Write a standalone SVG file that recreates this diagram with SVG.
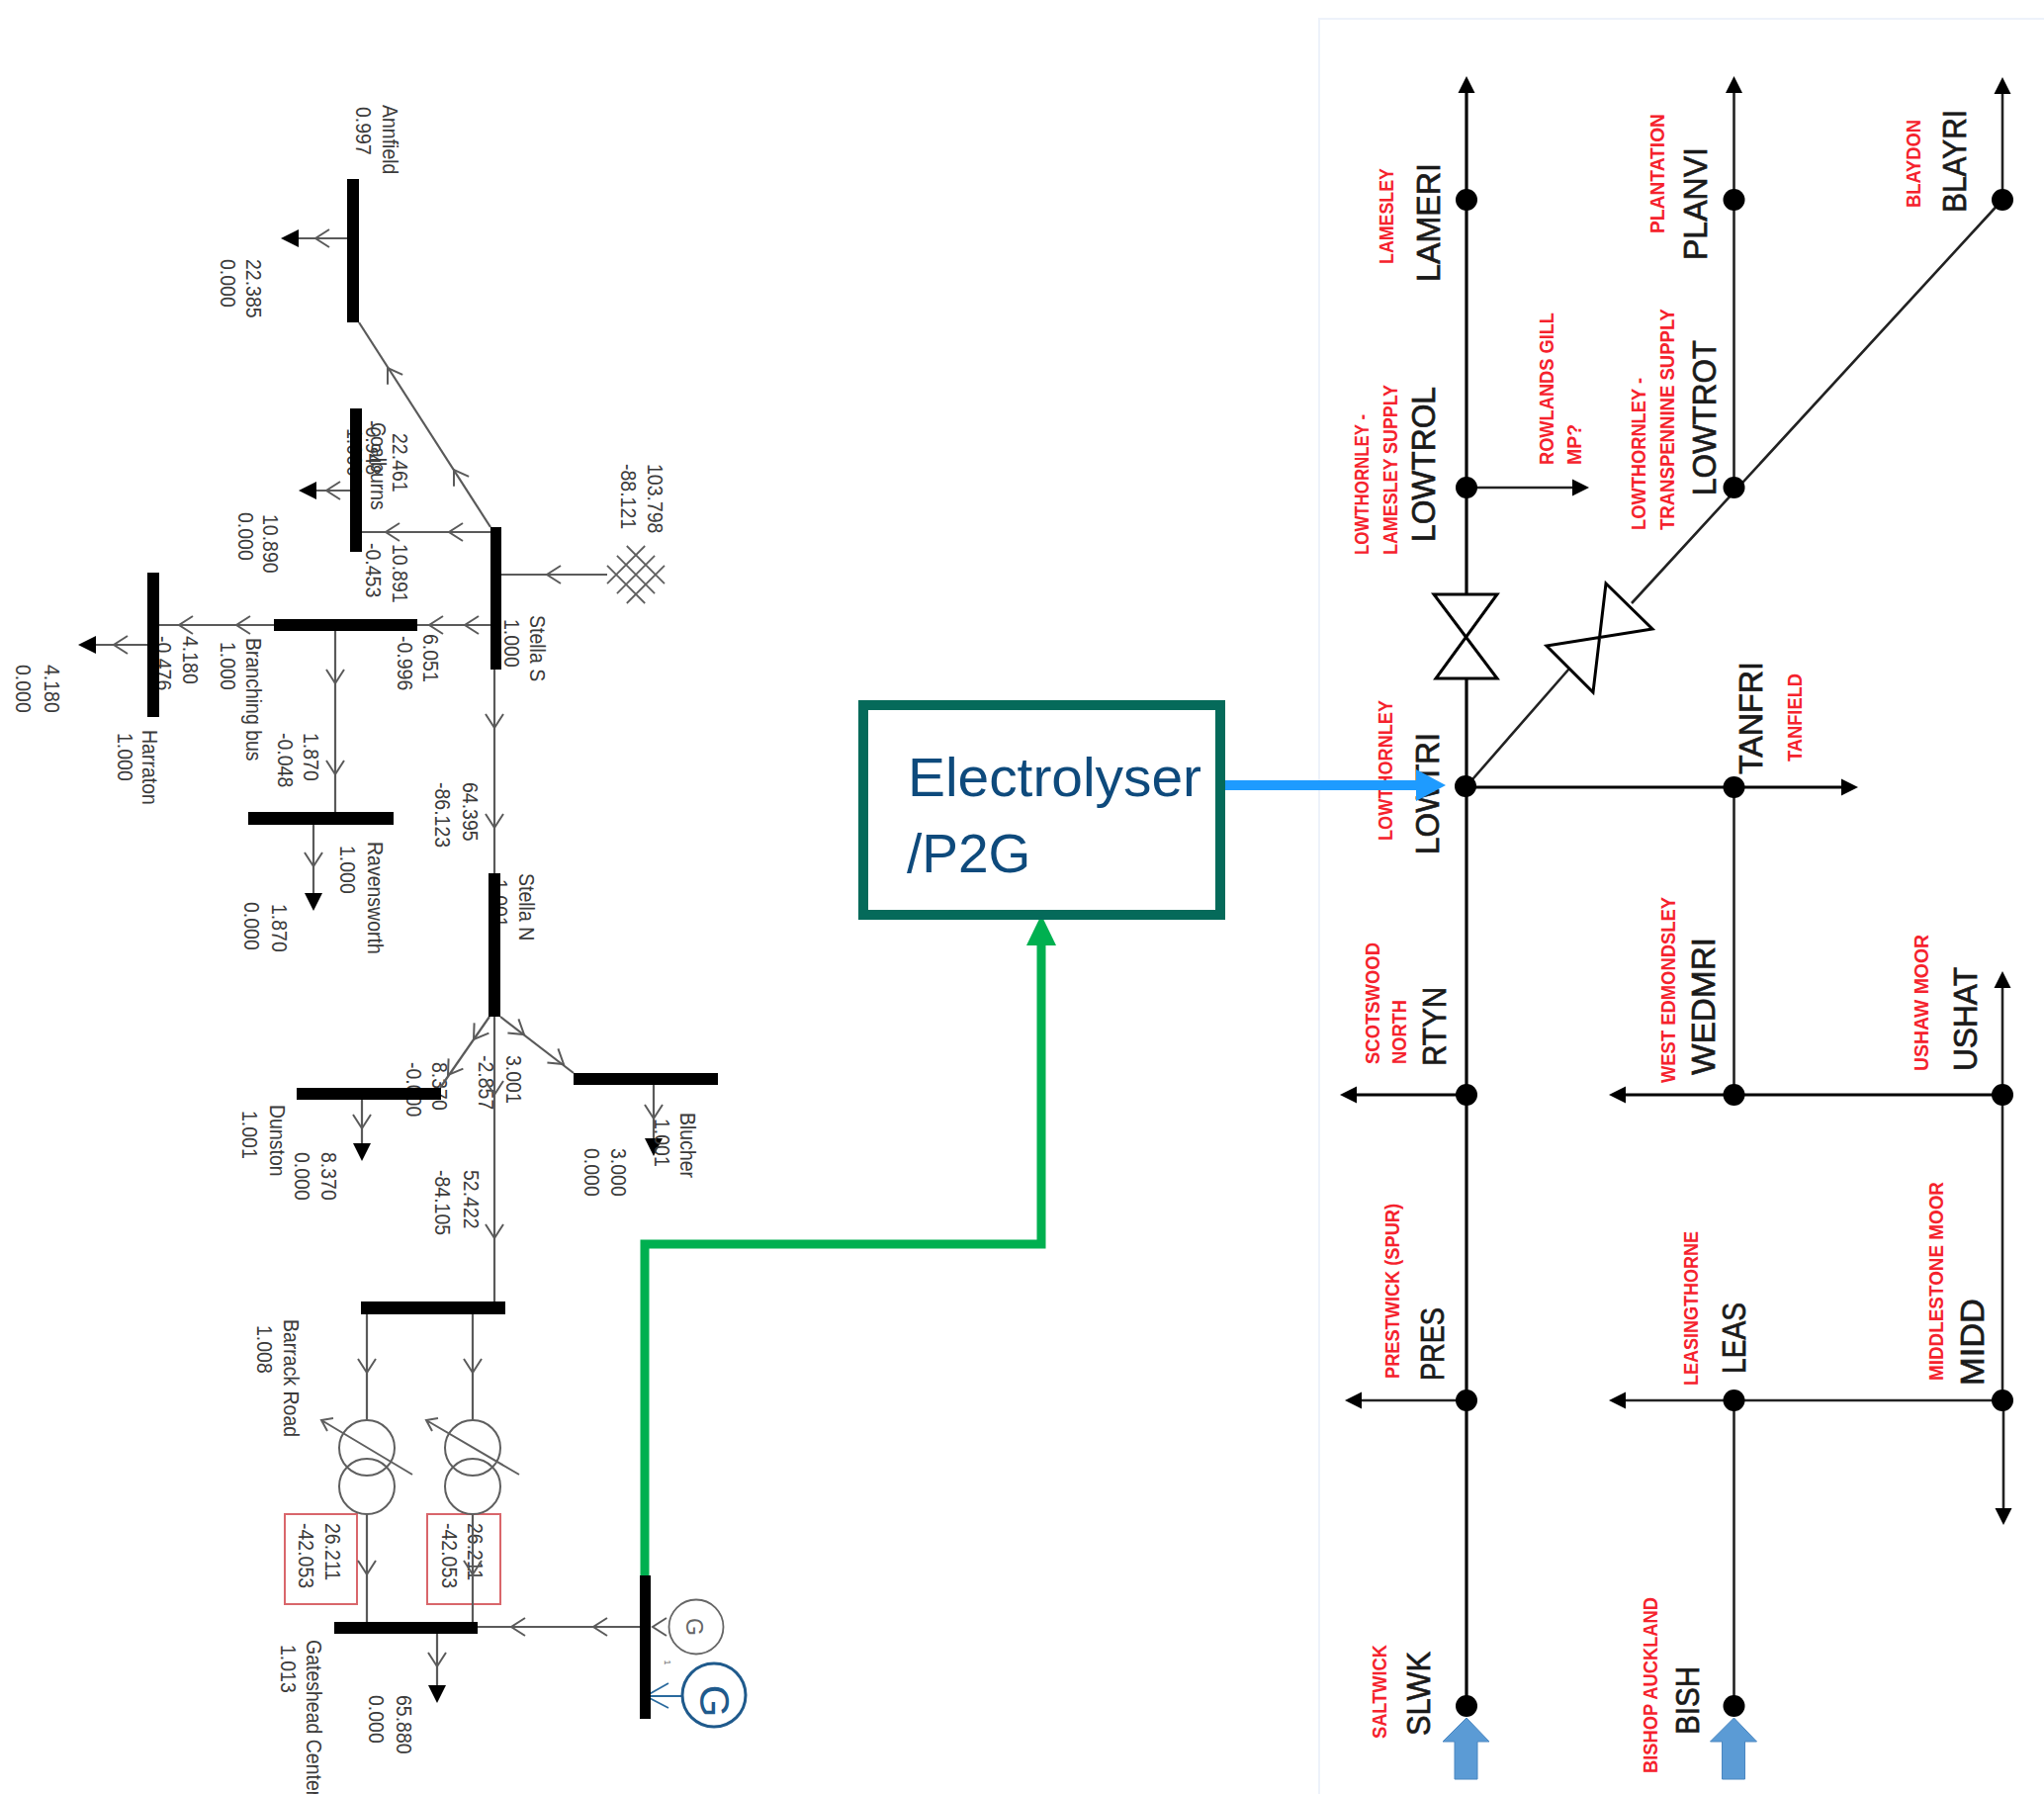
<svg xmlns="http://www.w3.org/2000/svg" width="2067" height="1814" viewBox="0 0 2067 1814">
<style>
text{font-family:"Liberation Sans",Arial,sans-serif}
.v{font-size:19.5px;fill:#3a3a3a}
.k{font-size:34px;fill:#1a1a1a;stroke:#1a1a1a;stroke-width:.7px}
.r{font-size:20px;font-weight:bold;fill:#f5222d}
.bar{fill:#000}
.ln{stroke:#5a5a5a;stroke-width:2.2;fill:none}
.oa{stroke:#5a5a5a;stroke-width:2;fill:none}
.ld{fill:#000}
.xf{stroke:#5f5f5f;stroke-width:2;fill:none}
.bx{stroke:#d9666b;stroke-width:2;fill:none}
.k1{stroke:#000;stroke-width:3.2;fill:none}
.k2{stroke:#222;stroke-width:2.6;fill:none}
.dot{fill:#000}
.hd{fill:#000}
.inf{fill:#5b9bd5;stroke:#4a86c0;stroke-width:1}
</style>
<defs>
<path id="oa" class="oa" d="M-14,-9 L0,0 L-14,9"/>
<path id="hd" class="hd" d="M0,0 L-17,-8.5 L-17,8.5 Z"/>
<path id="ld" class="ld" d="M0,0 L-18,-9 L-18,9 Z"/>
<path id="up" class="inf" d="M0,0 L23,24 L11,24 L11,62 L-12,62 L-12,24 L-24,24 Z"/>
</defs>
<rect width="2067" height="1814" fill="#fff"/>
<path d="M1334,1814 V19 H2067" fill="none" stroke="#edf2fa" stroke-width="2"/>

<g id="flow-labels" class="v">
<text class="v" transform="translate(397,438) rotate(90) scale(1,1.12)">22.461</text>
<text class="v" transform="translate(370,425) rotate(90) scale(1,1.12)">-0.948</text>
<text class="v" transform="translate(397,550) rotate(90) scale(1,1.12)">10.891</text>
<text class="v" transform="translate(370,549) rotate(90) scale(1,1.12)">-0.453</text>
<text class="v" transform="translate(428,641) rotate(90) scale(1,1.12)">6.051</text>
<text class="v" transform="translate(402,643) rotate(90) scale(1,1.12)">-0.996</text>
<text class="v" transform="translate(185,643) rotate(90) scale(1,1.12)">4.180</text>
<text class="v" transform="translate(158,643) rotate(90) scale(1,1.12)">-0.476</text>
<text class="v" transform="translate(307,741) rotate(90) scale(1,1.12)">1.870</text>
<text class="v" transform="translate(281,741) rotate(90) scale(1,1.12)">-0.048</text>
<text class="v" transform="translate(468,791) rotate(90) scale(1,1.12)">64.395</text>
<text class="v" transform="translate(440,791) rotate(90) scale(1,1.12)">-86.123</text>
<text class="v" transform="translate(437,1074) rotate(90) scale(1,1.12)">8.370</text>
<text class="v" transform="translate(411,1074) rotate(90) scale(1,1.12)">-0.000</text>
<text class="v" transform="translate(512,1067) rotate(90) scale(1,1.12)">3.001</text>
<text class="v" transform="translate(484,1067) rotate(90) scale(1,1.12)">-2.857</text>
<text class="v" transform="translate(469,1183) rotate(90) scale(1,1.12)">52.422</text>
<text class="v" transform="translate(440,1183) rotate(90) scale(1,1.12)">-84.105</text>
<text class="v" transform="translate(655,469) rotate(90) scale(1,1.12)">103.798</text>
<text class="v" transform="translate(628,469) rotate(90) scale(1,1.12)">-88.121</text>
<rect class="bx" x="288" y="1531" width="73" height="91"/>
<rect class="bx" x="432" y="1531" width="74" height="91"/>
<text class="v" transform="translate(329,1540) rotate(90) scale(1,1.12)">26.211</text>
<text class="v" transform="translate(302,1540) rotate(90) scale(1,1.12)">-42.053</text>
<text class="v" transform="translate(473,1540) rotate(90) scale(1,1.12)">26.211</text>
<text class="v" transform="translate(447,1540) rotate(90) scale(1,1.12)">-42.053</text>
</g>

<g id="connectors">
<path class="ln" d="M363,326 L496,533"/>
<use href="#oa" transform="translate(392,372) rotate(-122.7)"/>
<use href="#oa" transform="translate(459,475) rotate(-122.7)"/>
<path class="ln" d="M496,538 H366"/>
<use href="#oa" transform="translate(390,538) rotate(180)"/>
<use href="#oa" transform="translate(454,538) rotate(180)"/>
<path class="ln" d="M614,581 H507"/>
<use href="#oa" transform="translate(553,581) rotate(180)"/>
<path class="ln" d="M496,632 H422"/>
<use href="#oa" transform="translate(434,632) rotate(180)"/>
<use href="#oa" transform="translate(470,632) rotate(180)"/>
<path class="ln" d="M277,632 H161"/>
<use href="#oa" transform="translate(181,632) rotate(180)"/>
<use href="#oa" transform="translate(239,632) rotate(180)"/>
<path class="ln" d="M339,638 V821"/>
<use href="#oa" transform="translate(339,691) rotate(90)"/>
<use href="#oa" transform="translate(339,783) rotate(90)"/>
<path class="ln" d="M500,677 V883"/>
<use href="#oa" transform="translate(500,736) rotate(90)"/>
<use href="#oa" transform="translate(500,837) rotate(90)"/>
<path class="ln" d="M495,1028 L445,1100"/>
<use href="#oa" transform="translate(479,1051) rotate(124.8)"/>
<use href="#oa" transform="translate(453,1087) rotate(124.8)"/>
<path class="ln" d="M506,1028 L580,1085"/>
<use href="#oa" transform="translate(530,1046) rotate(37.6)"/>
<use href="#oa" transform="translate(570,1076) rotate(37.6)"/>
<path class="ln" d="M500,1028 V1316"/>
<use href="#oa" transform="translate(500,1107) rotate(90)"/>
<use href="#oa" transform="translate(500,1252) rotate(90)"/>
<path class="ln" d="M371,1329 V1436 M371,1531 V1640 M478,1329 V1436 M478,1531 V1640"/>
<use href="#oa" transform="translate(371,1388) rotate(90)"/>
<use href="#oa" transform="translate(478,1388) rotate(90)"/>
<use href="#oa" transform="translate(371,1592) rotate(90)"/>
<use href="#oa" transform="translate(478,1592) rotate(90)"/>
<path class="ln" d="M647,1645 H483"/>
<use href="#oa" transform="translate(517,1645) rotate(180)"/>
<use href="#oa" transform="translate(600,1645) rotate(180)"/>
<use href="#oa" transform="translate(660,1645) rotate(180)"/>
<path d="M689,1715 H653 M676,1702 L653,1715 L676,1727" fill="none" stroke="#2a6a9e" stroke-width="1.8"/>
<path class="ln" d="M351,241 H301"/><use href="#oa" transform="translate(319,241) rotate(180)"/><use href="#ld" transform="translate(284,241) rotate(180)"/>
<path class="ln" d="M354,496 H319"/><use href="#oa" transform="translate(330,496) rotate(180)"/><use href="#ld" transform="translate(302,496) rotate(180)"/>
<path class="ln" d="M149,652 H97"/><use href="#oa" transform="translate(115,652) rotate(180)"/><use href="#ld" transform="translate(79,652) rotate(180)"/>
<path class="ln" d="M317,834 V903"/><use href="#oa" transform="translate(317,876) rotate(90)"/><use href="#ld" transform="translate(317,921) rotate(90)"/>
<path class="ln" d="M366,1112 V1157"/><use href="#oa" transform="translate(366,1141) rotate(90)"/><use href="#ld" transform="translate(366,1174) rotate(90)"/>
<path class="ln" d="M661,1097 V1153"/><use href="#oa" transform="translate(661,1131) rotate(90)"/><use href="#ld" transform="translate(661,1169) rotate(90)"/>
<path class="ln" d="M442,1652 V1706"/><use href="#oa" transform="translate(442,1685) rotate(90)"/><use href="#ld" transform="translate(442,1722) rotate(90)"/>

<path class="k1" d="M1483,90 V601 M1483,686 V1725"/>
<use href="#hd" transform="translate(1483,77) rotate(-90)"/>
<path class="k2" d="M1753.5,90 V493 M1753.5,796 V1107 M1753.5,1416 V1725"/>
<use href="#hd" transform="translate(1753.5,77) rotate(-90)"/>
<path class="k2" d="M2025,90 V202"/>
<use href="#hd" transform="translate(2025,78) rotate(-90)"/>
<path class="k2" d="M1483,493 H1592"/>
<use href="#hd" transform="translate(1607,493)"/>
<path class="k2" d="M2025,202 L1650,610 M1587,676 L1483,795"/>
<path d="M1450,601 H1514 L1452,686 H1514 Z" fill="none" stroke="#000" stroke-width="3"/>
<path d="M1624,590 L1671,636 L1564,653 L1611,700 Z" fill="none" stroke="#000" stroke-width="3"/>
<path class="k1" d="M1483,796 H1866"/>
<use href="#hd" transform="translate(1879,796)"/>
<path class="k1" d="M1483,1107 H1370"/>
<use href="#hd" transform="translate(1355,1107) rotate(180)"/>
<path class="k1" d="M2025,1107 H1642"/>
<use href="#hd" transform="translate(1627,1107) rotate(180)"/>
<path class="k2" d="M2025,995 V1416"/>
<use href="#hd" transform="translate(2025,982) rotate(-90)"/>
<path class="k2" d="M1483,1416 H1375"/>
<use href="#hd" transform="translate(1360,1416) rotate(180)"/>
<path class="k2" d="M2025,1416 H1642"/>
<use href="#hd" transform="translate(1627,1416) rotate(180)"/>
<path class="k2" d="M2026,1416 V1528"/>
<use href="#hd" transform="translate(2026,1542) rotate(90)"/>

<path d="M652,1593 V1258 H1053 V945" fill="none" stroke="#00b050" stroke-width="9"/>
<path d="M1053,925 L1068,956 H1038 Z" fill="#00b050"/>
</g>

<g id="annfield"><rect class="bar" x="351" y="181" width="12" height="145"/>
<text class="v" transform="translate(387,106) rotate(90) scale(1,1.12)">Annfield</text>
<text class="v" transform="translate(360,108) rotate(90) scale(1,1.12)">0.997</text>
<text class="v" transform="translate(249,262) rotate(90) scale(1,1.12)">22.385</text>
<text class="v" transform="translate(223,262) rotate(90) scale(1,1.12)">0.000</text></g>
<g id="coalburns">
<text class="v" transform="translate(351,433) rotate(90) scale(1,1.12)">1.000</text>
<rect class="bar" x="354" y="413" width="12" height="145"/>
<text class="v" transform="translate(375,427) rotate(90) scale(1,1.12)">Coalburns</text>
<text class="v" transform="translate(266,520) rotate(90) scale(1,1.12)">10.890</text>
<text class="v" transform="translate(241,518) rotate(90) scale(1,1.12)">0.000</text></g>
<g id="stella-s"><rect class="bar" x="496" y="533" width="11" height="144"/>
<text class="v" transform="translate(536,622) rotate(90) scale(1,1.12)">Stella S</text>
<text class="v" transform="translate(510,626) rotate(90) scale(1,1.12)">1.000</text></g>
<g id="grid" class="xf"><path transform="translate(643,581) rotate(45)" d="M-27,-14H27M-27,0H27M-27,14H27M-14,-27V27M0,-27V27M14,-27V27" stroke-width="1.8"/></g>
<g id="branching-bus"><rect class="bar" x="277" y="626" width="145" height="12"/>
<text class="v" transform="translate(249,645) rotate(90) scale(1,1.12)">Branching bus</text>
<text class="v" transform="translate(223,649) rotate(90) scale(1,1.12)">1.000</text></g>
<g id="harraton"><rect class="bar" x="149" y="579" width="12" height="146"/>
<text class="v" transform="translate(144,738) rotate(90) scale(1,1.12)">Harraton</text>
<text class="v" transform="translate(119,741) rotate(90) scale(1,1.12)">1.000</text>
<text class="v" transform="translate(45,672) rotate(90) scale(1,1.12)">4.180</text>
<text class="v" transform="translate(16,672) rotate(90) scale(1,1.12)">0.000</text></g>
<g id="ravensworth"><rect class="bar" x="251" y="821" width="147" height="13"/>
<text class="v" transform="translate(372,851) rotate(90) scale(1,1.12)">Ravensworth</text>
<text class="v" transform="translate(344,855) rotate(90) scale(1,1.12)">1.000</text>
<text class="v" transform="translate(275,914) rotate(90) scale(1,1.12)">1.870</text>
<text class="v" transform="translate(247,912) rotate(90) scale(1,1.12)">0.000</text></g>
<g id="stella-n">
<text class="v" transform="translate(498,889) rotate(90) scale(1,1.12)">1.001</text>
<rect class="bar" x="494" y="883" width="12" height="145"/>
<text class="v" transform="translate(525,883) rotate(90) scale(1,1.12)">Stella N</text></g>
<g id="dunston"><rect class="bar" x="300" y="1100" width="146" height="12"/>
<text class="v" transform="translate(273,1117) rotate(90) scale(1,1.12)">Dunston</text>
<text class="v" transform="translate(245,1123) rotate(90) scale(1,1.12)">1.001</text>
<text class="v" transform="translate(325,1165) rotate(90) scale(1,1.12)">8.370</text>
<text class="v" transform="translate(298,1165) rotate(90) scale(1,1.12)">0.000</text></g>
<g id="blucher"><rect class="bar" x="580" y="1085" width="146" height="12"/>
<text class="v" transform="translate(688,1125) rotate(90) scale(1,1.12)">Blucher</text>
<text class="v" transform="translate(662,1131) rotate(90) scale(1,1.12)">1.001</text>
<text class="v" transform="translate(618,1161) rotate(90) scale(1,1.12)">3.000</text>
<text class="v" transform="translate(591,1161) rotate(90) scale(1,1.12)">0.000</text></g>
<g id="barrack-road"><rect class="bar" x="365" y="1316" width="146" height="13"/>
<text class="v" transform="translate(287,1334) rotate(90) scale(1,1.12)">Barrack Road</text>
<text class="v" transform="translate(260,1340) rotate(90) scale(1,1.12)">1.008</text></g>
<g id="transformer-1" class="xf"><circle cx="371" cy="1464" r="28"/><circle cx="371" cy="1503" r="28"/><path d="M417,1491 L325,1436 M337,1434 L325,1436 L331,1447"/></g>
<g id="transformer-2" class="xf"><circle cx="478" cy="1464" r="28"/><circle cx="478" cy="1503" r="28"/><path d="M525,1491 L431,1436 M443,1434 L431,1436 L437,1447"/></g>
<g id="gateshead-center"><rect class="bar" x="338" y="1640" width="145" height="12"/>
<text class="v" transform="translate(310,1658) rotate(90) scale(1,1.12)">Gateshead Center</text>
<text class="v" transform="translate(284,1663) rotate(90) scale(1,1.12)">1.013</text>
<text class="v" transform="translate(401,1714) rotate(90) scale(1,1.12)">65.880</text>
<text class="v" transform="translate(373,1714) rotate(90) scale(1,1.12)">0.000</text></g>
<g id="gen-bus"><rect class="bar" x="647" y="1593" width="11" height="145"/>
<text transform="translate(672,1681) rotate(90)" font-size="9" fill="#666" text-anchor="middle">1</text></g>
<g id="gen-grey"><circle cx="704" cy="1645" r="27.5" fill="#fff" stroke="#666" stroke-width="1.8"/>
<text transform="translate(694,1645) rotate(90)" font-size="23" fill="#666" text-anchor="middle">G</text></g>
<g id="gen-blue"><circle cx="722" cy="1714" r="32" fill="#fff" stroke="#1f5a8c" stroke-width="3"/>
<text transform="translate(708,1720) rotate(90)" font-size="42" fill="#1f5a8c" text-anchor="middle">G</text></g>

<g id="lowthornley-labels">
<text class="r" transform="translate(1409,267) rotate(-90)" textLength="97" lengthAdjust="spacingAndGlyphs">LAMESLEY</text>
<text class="k" transform="translate(1456,285) rotate(-90)" textLength="120" lengthAdjust="spacingAndGlyphs">LAMERI</text>
<text class="r" transform="translate(1384,561) rotate(-90)" textLength="142" lengthAdjust="spacingAndGlyphs">LOWTHORNLEY -</text>
<text class="r" transform="translate(1413,561) rotate(-90)" textLength="172" lengthAdjust="spacingAndGlyphs">LAMESLEY SUPPLY</text>
<text class="k" transform="translate(1451,548) rotate(-90)" textLength="157" lengthAdjust="spacingAndGlyphs">LOWTROL</text>
<text class="r" transform="translate(1571,470) rotate(-90)" textLength="154" lengthAdjust="spacingAndGlyphs">ROWLANDS GILL</text>
<text class="r" transform="translate(1599,470) rotate(-90)" textLength="41" lengthAdjust="spacingAndGlyphs">MP?</text>
<text class="r" transform="translate(1683,236) rotate(-90)" textLength="121" lengthAdjust="spacingAndGlyphs">PLANTATION</text>
<text class="k" transform="translate(1726,263) rotate(-90)" textLength="114" lengthAdjust="spacingAndGlyphs">PLANVI</text>
<text class="r" transform="translate(1664,536) rotate(-90)" textLength="154" lengthAdjust="spacingAndGlyphs">LOWTHORNLEY -</text>
<text class="r" transform="translate(1693,536) rotate(-90)" textLength="224" lengthAdjust="spacingAndGlyphs">TRANSPENNINE SUPPLY</text>
<text class="k" transform="translate(1735,501) rotate(-90)" textLength="157" lengthAdjust="spacingAndGlyphs">LOWTROT</text>
<text class="r" transform="translate(1942,210) rotate(-90)" textLength="89" lengthAdjust="spacingAndGlyphs">BLAYDON</text>
<text class="k" transform="translate(1988,215) rotate(-90)" textLength="104" lengthAdjust="spacingAndGlyphs">BLAYRI</text>
<text class="r" transform="translate(1408,850) rotate(-90)" textLength="142" lengthAdjust="spacingAndGlyphs">LOWTHORNLEY</text>
<text class="k" transform="translate(1455,864) rotate(-90)" textLength="123" lengthAdjust="spacingAndGlyphs">LOWTRI</text>
<text class="k" transform="translate(1782,783) rotate(-90)" textLength="114" lengthAdjust="spacingAndGlyphs">TANFRI</text>
<text class="r" transform="translate(1822,770) rotate(-90)" textLength="89" lengthAdjust="spacingAndGlyphs">TANFIELD</text>
<text class="r" transform="translate(1395,1076) rotate(-90)" textLength="123" lengthAdjust="spacingAndGlyphs">SCOTSWOOD</text>
<text class="r" transform="translate(1422,1076) rotate(-90)" textLength="65" lengthAdjust="spacingAndGlyphs">NORTH</text>
<text class="k" transform="translate(1462,1078) rotate(-90)" textLength="80" lengthAdjust="spacingAndGlyphs">RTYN</text>
<text class="r" transform="translate(1694,1095) rotate(-90)" textLength="188" lengthAdjust="spacingAndGlyphs">WEST EDMONDSLEY</text>
<text class="k" transform="translate(1734,1087) rotate(-90)" textLength="139" lengthAdjust="spacingAndGlyphs">WEDMRI</text>
<text class="r" transform="translate(1950,1083) rotate(-90)" textLength="138" lengthAdjust="spacingAndGlyphs">USHAW MOOR</text>
<text class="k" transform="translate(1999,1083) rotate(-90)" textLength="105" lengthAdjust="spacingAndGlyphs">USHAT</text>
<text class="r" transform="translate(1415,1394) rotate(-90)" textLength="177" lengthAdjust="spacingAndGlyphs">PRESTWICK (SPUR)</text>
<text class="k" transform="translate(1460,1396) rotate(-90)" textLength="74" lengthAdjust="spacingAndGlyphs">PRES</text>
<text class="r" transform="translate(1717,1401) rotate(-90)" textLength="156" lengthAdjust="spacingAndGlyphs">LEASINGTHORNE</text>
<text class="k" transform="translate(1765,1389) rotate(-90)" textLength="72" lengthAdjust="spacingAndGlyphs">LEAS</text>
<text class="r" transform="translate(1965,1396) rotate(-90)" textLength="201" lengthAdjust="spacingAndGlyphs">MIDDLESTONE MOOR</text>
<text class="k" transform="translate(2006,1401) rotate(-90)" textLength="88" lengthAdjust="spacingAndGlyphs">MIDD</text>
<text class="r" transform="translate(1402,1758) rotate(-90)" textLength="95" lengthAdjust="spacingAndGlyphs">SALTWICK</text>
<text class="k" transform="translate(1446,1755) rotate(-90)" textLength="85" lengthAdjust="spacingAndGlyphs">SLWK</text>
<text class="r" transform="translate(1676,1793) rotate(-90)" textLength="178" lengthAdjust="spacingAndGlyphs">BISHOP AUCKLAND</text>
<text class="k" transform="translate(1718,1754) rotate(-90)" textLength="69" lengthAdjust="spacingAndGlyphs">BISH</text>
</g>
<g id="network-nodes">
<circle class="dot" cx="1483" cy="202" r="11"/><circle class="dot" cx="1753.5" cy="202" r="11"/><circle class="dot" cx="2025" cy="202" r="11"/>
<circle class="dot" cx="1483" cy="493" r="11"/><circle class="dot" cx="1753.5" cy="493" r="11"/>
<circle class="dot" cx="1482" cy="795" r="11"/><circle class="dot" cx="1753.5" cy="796" r="11"/>
<circle class="dot" cx="1483" cy="1107" r="11"/><circle class="dot" cx="1753.5" cy="1107" r="11"/><circle class="dot" cx="2025" cy="1107" r="11"/>
<circle class="dot" cx="1483" cy="1416" r="11"/><circle class="dot" cx="1753.5" cy="1416" r="11"/><circle class="dot" cx="2025" cy="1416" r="11"/>
<circle class="dot" cx="1483" cy="1725" r="11"/><circle class="dot" cx="1753.5" cy="1725" r="11"/>
</g>
<g id="inflow-slwk"><use href="#up" transform="translate(1483,1737)"/></g>
<g id="inflow-bish"><use href="#up" transform="translate(1753.5,1737)"/></g>

<g id="electrolyser"><rect x="873" y="713" width="361" height="212" fill="#fff" stroke="#056a5a" stroke-width="10"/>
<text x="918" y="805" font-size="55" fill="#0e4a7c" textLength="297" lengthAdjust="spacingAndGlyphs">Electrolyser</text>
<text x="917" y="882" font-size="55" fill="#0e4a7c">/P2G</text></g>
<g id="electrolyser-link"><path d="M1239,794 H1435" stroke="#1e9bff" stroke-width="10" fill="none"/><path d="M1462,794 L1432,778 V810 Z" fill="#1e9bff"/></g>
</svg>
